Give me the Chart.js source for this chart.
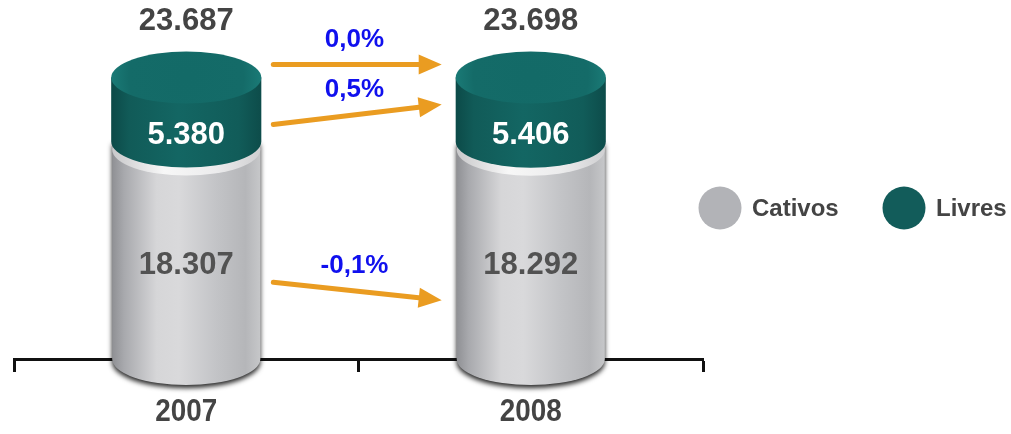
<!DOCTYPE html>
<html>
<head>
<meta charset="utf-8">
<script src="https://cdn.jsdelivr.net/npm/chart.js@4.4.0/dist/chart.umd.min.js"></script>
<style>
  html, body { margin: 0; padding: 0; background: #fff; }
  #wrap { width: 1011px; height: 434px; }
</style>
</head>
<body>
<div id="wrap"><canvas id="chart" width="1011" height="434"></canvas></div>
<script>
// Stock split by year
const years = ['2007', '2008'];
const cativos = [18307, 18292];
const livres = [5380, 5406];

const totals = cativos.map((v, i) => v + livres[i]);

const GREY = '#b2b3b7';
const TEAL = '#125c5a';
const ORANGE = '#ea9c21';
const FONT = '"Liberation Sans", Arial, sans-serif';
const RY = 26; // ellipse height of the cylinder ends

function fmt(n) {
    return String(n).replace(/\B(?=(\d{3})+(?!\d))/g, '.');
}

function pct(a, b) {
    return ((b / a - 1) * 100).toFixed(1).replace('.', ',') + '%';
}

function hGrad(ctx, left, right, stops) {
    const g = ctx.createLinearGradient(left, 0, right, 0);
    stops.forEach(s => g.addColorStop(s[0], s[1]));
    return g;
}

function drawGreyBody(ctx, bar) {
    const cx = bar.x, rx = bar.width / 2;
    const left = cx - rx, right = cx + rx;
    ctx.save();
    ctx.shadowColor = 'rgba(0,0,0,0.85)';
    ctx.shadowBlur = 5;
    ctx.shadowOffsetY = 3;
    ctx.beginPath();
    ctx.moveTo(left, bar.y);
    ctx.lineTo(left, bar.base);
    ctx.ellipse(cx, bar.base, rx, RY, 0, Math.PI, 0, true);
    ctx.lineTo(right, bar.y);
    ctx.closePath();
    ctx.fillStyle = hGrad(ctx, left, right, [
        [0, '#8f9094'], [0.08, '#a8a9ad'], [0.3, '#d6d6d8'], [0.45, '#d9d9db'],
        [0.7, '#c3c4c7'], [0.9, '#b5b6b9'], [1, '#c6c7c9']
    ]);
    ctx.fill();
    ctx.restore();
    // light rim just under the cap
    ctx.save();
    ctx.beginPath();
    ctx.ellipse(cx, bar.y + 8, rx, RY, 0, 0, Math.PI * 2);
    ctx.fillStyle = hGrad(ctx, left, right, [
        [0, '#c9c9cb'], [0.35, '#f7f7f7'], [0.7, '#ececed'], [1, '#d0d0d2']
    ]);
    ctx.fill();
    ctx.restore();
}

function drawTealCap(ctx, bar) {
    const cx = bar.x, rx = bar.width / 2 + 1;
    const left = cx - rx, right = cx + rx;
    ctx.save();
    ctx.beginPath();
    ctx.moveTo(left, bar.y);
    ctx.lineTo(left, bar.base);
    ctx.ellipse(cx, bar.base, rx, RY, 0, Math.PI, 0, true);
    ctx.lineTo(right, bar.y);
    ctx.closePath();
    ctx.fillStyle = hGrad(ctx, left, right, [
        [0, '#0c4a48'], [0.12, '#115b58'], [0.45, '#136663'], [0.85, '#115c59'], [1, '#0d4c4a']
    ]);
    ctx.fill();
    // top face
    ctx.beginPath();
    ctx.ellipse(cx, bar.y, rx, RY, 0, 0, Math.PI * 2);
    const g = ctx.createRadialGradient(cx, bar.y, 4, cx, bar.y, rx);
    g.addColorStop(0, '#136a67');
    g.addColorStop(0.75, '#146b68');
    g.addColorStop(1, '#1a7a76');
    ctx.fillStyle = g;
    ctx.fill();
    ctx.restore();
}

function drawArrow(ctx, x1, y1, x2, y2) {
    const ang = Math.atan2(y2 - y1, x2 - x1);
    const head = 23, half = 10;
    const bx = x2 - head * Math.cos(ang), by = y2 - head * Math.sin(ang);
    ctx.save();
    ctx.strokeStyle = ORANGE;
    ctx.fillStyle = ORANGE;
    ctx.lineWidth = 5;
    ctx.lineCap = 'round';
    ctx.beginPath();
    ctx.moveTo(x1, y1);
    ctx.lineTo(bx, by);
    ctx.stroke();
    ctx.beginPath();
    ctx.moveTo(x2, y2);
    ctx.lineTo(bx - half * Math.sin(ang), by + half * Math.cos(ang));
    ctx.lineTo(bx + half * Math.sin(ang), by - half * Math.cos(ang));
    ctx.closePath();
    ctx.fill();
    ctx.restore();
}

const cylinders = {
    id: 'cylinders',
    afterDatasetsDraw(chart) {
        const ctx = chart.ctx;
        const grey = chart.getDatasetMeta(0).data;
        const teal = chart.getDatasetMeta(1).data;

        grey.forEach(b => drawGreyBody(ctx, b));
        teal.forEach(b => drawTealCap(ctx, b));

        ctx.save();
        ctx.textAlign = 'center';
        ctx.textBaseline = 'middle';
        ctx.font = 'bold 31px ' + FONT;
        years.forEach((y, i) => {
            ctx.fillStyle = '#444444';
            ctx.fillText(fmt(totals[i]), teal[i].x, teal[i].y - RY - 30);
            ctx.fillStyle = '#ffffff';
            ctx.fillText(fmt(livres[i]), teal[i].x, teal[i].base - 6);
            ctx.fillStyle = '#525252';
            ctx.fillText(fmt(cativos[i]), grey[i].x, (grey[i].y + grey[i].base) / 2 + 15);
        });

        // change arrows between the two years
        const x1 = grey[0].x + grey[0].width / 2 + 13;
        const x2 = grey[1].x - grey[1].width / 2 - 15;
        const xm = (x1 + x2) / 2;
        const arrows = [
            { y: teal[0].y - RY + 13, tilt: 0, text: pct(totals[0], totals[1]) },
            { y: (teal[0].y + teal[0].base) / 2 + 5, tilt: -20, text: pct(livres[0], livres[1]) },
            { y: (grey[0].y + grey[0].base) / 2 + 41, tilt: 18, text: pct(cativos[0], cativos[1]) }
        ];
        ctx.font = 'bold 26px ' + FONT;
        arrows.forEach(a => {
            drawArrow(ctx, x1, a.y - a.tilt / 2, x2, a.y + a.tilt / 2);
            ctx.fillStyle = '#1010ee';
            ctx.fillText(a.text, xm - 3, a.y - 25);
        });

        // year labels, slightly condensed
        const xs = chart.scales.x;
        ctx.font = 'bold 32px ' + FONT;
        ctx.fillStyle = '#444444';
        years.forEach((y, i) => {
            ctx.save();
            ctx.translate(xs.getPixelForValue(i), xs.top + 53);
            ctx.scale(0.87, 1);
            ctx.fillText(y, 0, 0);
            ctx.restore();
        });
        ctx.restore();
    },
    afterDraw(chart) {
        // legend, laid out side by side
        const ctx = chart.ctx;
        const items = chart.data.datasets.map(d => ({ label: d.label, color: d.legendColor }));
        const xs = [720, 904];
        const y = 208;
        ctx.save();
        ctx.font = 'bold 24px ' + FONT;
        ctx.textBaseline = 'middle';
        ctx.textAlign = 'left';
        items.forEach((it, i) => {
            ctx.beginPath();
            ctx.arc(xs[i], y, 21.5, 0, Math.PI * 2);
            ctx.fillStyle = it.color;
            ctx.fill();
            ctx.fillStyle = '#444444';
            ctx.fillText(it.label, xs[i] + 32, y + 1);
        });
        ctx.restore();
    }
};

new Chart(document.getElementById('chart'), {
    type: 'bar',
    data: {
        labels: years,
        datasets: [
            { label: 'Cativos', data: cativos, backgroundColor: 'rgba(0,0,0,0)', legendColor: GREY },
            { label: 'Livres', data: livres, backgroundColor: 'rgba(0,0,0,0)', legendColor: TEAL }
        ]
    },
    options: {
        responsive: false,
        animation: false,
        events: [],
        layout: { padding: { left: 14, right: 308, top: 62, bottom: 62 } },
        datasets: { bar: { categoryPercentage: 1, barPercentage: 0.43 } },
        plugins: { legend: { display: false }, tooltip: { enabled: false } },
        scales: {
            x: {
                stacked: true,
                grid: {
                    offset: true,
                    drawOnChartArea: false,
                    drawTicks: true,
                    tickLength: 13,
                    tickWidth: 3,
                    tickColor: '#111111'
                },
                border: { display: true, color: '#111111', width: 3 },
                ticks: { display: false }
            },
            y: { stacked: true, display: false, min: 0, max: 25000 }
        }
    },
    plugins: [cylinders]
});
</script>
</body>
</html>
